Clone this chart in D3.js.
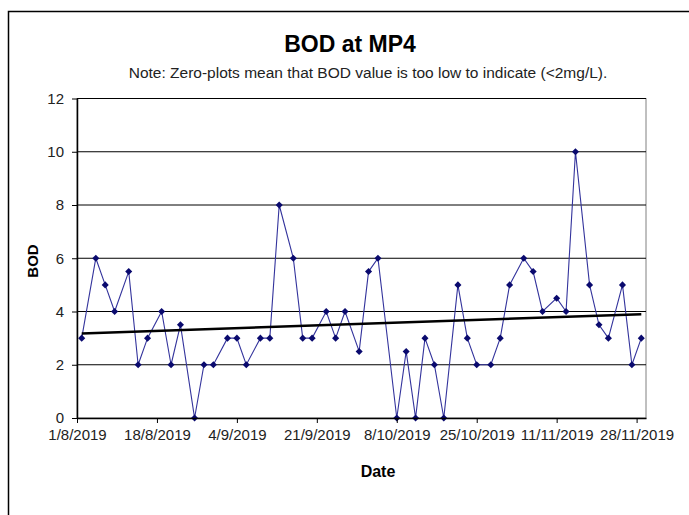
<!DOCTYPE html>
<html>
<head>
<meta charset="utf-8">
<script src="https://cdn.jsdelivr.net/npm/d3@7"></script>
<style>
  body { margin: 0; background: #fff; }
  text { font-family: "Liberation Sans", Arial, sans-serif; }
</style>
</head>
<body>
<div id="wrapper"></div>
<script>
// sample dates (d/m/yyyy) and BOD readings
const sampleDates = [
  "2/8/2019", "5/8/2019", "7/8/2019", "9/8/2019", "12/8/2019", "14/8/2019",
  "16/8/2019", "19/8/2019", "21/8/2019", "23/8/2019", "26/8/2019", "28/8/2019",
  "30/8/2019", "2/9/2019", "4/9/2019", "6/9/2019", "9/9/2019", "11/9/2019",
  "13/9/2019", "16/9/2019", "18/9/2019", "20/9/2019", "23/9/2019", "25/9/2019",
  "27/9/2019", "30/9/2019", "2/10/2019", "4/10/2019", "8/10/2019", "10/10/2019",
  "12/10/2019", "14/10/2019", "16/10/2019", "18/10/2019", "21/10/2019", "23/10/2019",
  "25/10/2019", "28/10/2019", "30/10/2019", "1/11/2019", "4/11/2019", "6/11/2019",
  "8/11/2019", "11/11/2019", "13/11/2019", "15/11/2019", "18/11/2019", "20/11/2019",
  "22/11/2019", "25/11/2019", "27/11/2019", "29/11/2019"
]
const bodValues = [
  3, 6, 5, 4, 5.5, 2,
  3, 4, 2, 3.5, 0, 2,
  2, 3, 3, 2, 3, 3,
  8, 6, 3, 3, 4, 3,
  4, 2.5, 5.5, 6, 0, 2.5,
  0, 3, 2, 0, 5, 3,
  2, 2, 3, 5, 6, 5.5,
  4, 4.5, 4, 10, 5, 3.5,
  3, 5, 2, 3
]
const xDomain = ["1/8/2019", "30/11/2019"]
const xTickLabels = ["1/8/2019", "18/8/2019", "4/9/2019", "21/9/2019",
  "8/10/2019", "25/10/2019", "11/11/2019", "28/11/2019"]
const yTicks = [0, 2, 4, 6, 8, 10, 12]

const chartTitle = "BOD at MP4"
const chartNote = "Note: Zero-plots mean that BOD value is too low to indicate (<2mg/L)."

async function drawChart() {
  const dateParser = d3.timeParse("%d/%m/%Y")
  const dataset = sampleDates.map((d, i) => ({ date: dateParser(d), value: bodValues[i] }))
  const xAccessor = d => d.date
  const yAccessor = d => d.value

  // 2. dimensions
  let dimensions = {
    width: 689,
    height: 515,
    margin: { top: 98.5, right: 43, bottom: 97, left: 77 },
  }
  dimensions.boundedWidth = dimensions.width - dimensions.margin.left - dimensions.margin.right
  dimensions.boundedHeight = dimensions.height - dimensions.margin.top - dimensions.margin.bottom

  // 3. canvas
  const wrapper = d3.select("#wrapper")
    .append("svg")
      .attr("width", dimensions.width)
      .attr("height", dimensions.height)

  wrapper.append("rect")
      .attr("width", dimensions.width)
      .attr("height", dimensions.height)
      .attr("fill", "#fff")

  // outer chart border (runs off the right and bottom of the picture)
  wrapper.append("rect")
      .attr("x", 8.5)
      .attr("y", 11.5)
      .attr("width", 700)
      .attr("height", 520)
      .attr("fill", "none")
      .attr("stroke", "#000")
      .attr("stroke-width", 1.5)

  const bounds = wrapper.append("g")
      .attr("transform", `translate(${dimensions.margin.left}, ${dimensions.margin.top})`)

  // 4. scales
  const xScale = d3.scaleTime()
    .domain(xDomain.map(dateParser))
    .range([0, dimensions.boundedWidth])

  const yScale = d3.scaleLinear()
    .domain([0, 12])
    .range([dimensions.boundedHeight, 0])

  // plot frame (right + top)
  bounds.append("rect")
      .attr("width", dimensions.boundedWidth)
      .attr("height", dimensions.boundedHeight)
      .attr("fill", "none")
      .attr("stroke", "#808080")
      .attr("stroke-width", 1)

  // gridlines
  bounds.append("g")
    .selectAll("line")
    .data(yTicks.filter(d => d > 0))
    .join("line")
      .attr("x1", 0)
      .attr("x2", dimensions.boundedWidth)
      .attr("y1", d => yScale(d))
      .attr("y2", d => yScale(d))
      .attr("stroke", "#000")
      .attr("stroke-width", 1)

  // 5. data
  const lineGenerator = d3.line()
    .x(d => xScale(xAccessor(d)))
    .y(d => yScale(yAccessor(d)))

  bounds.append("path")
      .attr("d", lineGenerator(dataset))
      .attr("fill", "none")
      .attr("stroke", "#33339c")
      .attr("stroke-width", 1.1)

  // linear trendline (least squares, as the spreadsheet does)
  const xs = dataset.map(d => +xAccessor(d))
  const ys = dataset.map(yAccessor)
  const xMean = d3.mean(xs)
  const yMean = d3.mean(ys)
  const slope = d3.sum(xs, (x, i) => (x - xMean) * (ys[i] - yMean)) / d3.sum(xs, x => (x - xMean) ** 2)
  const trend = d3.extent(xs).map(x => ({ date: new Date(x), value: yMean + slope * (x - xMean) }))

  bounds.append("path")
      .attr("d", lineGenerator(trend))
      .attr("fill", "none")
      .attr("stroke", "#000")
      .attr("stroke-width", 2.5)

  const diamond = d3.symbol().type(d3.symbolDiamond2).size(32)
  bounds.append("g")
    .selectAll("path")
    .data(dataset)
    .join("path")
      .attr("d", diamond)
      .attr("transform", d => `translate(${xScale(xAccessor(d))}, ${yScale(yAccessor(d))})`)
      .attr("fill", "#0a0a6e")

  // 6. peripherals
  const yAxisGenerator = d3.axisLeft()
    .scale(yScale)
    .tickValues(yTicks)
    .tickSize(5)
    .tickSizeOuter(0)
    .tickPadding(8)

  const yAxis = bounds.append("g")
    .call(yAxisGenerator)
  yAxis.select(".domain").attr("stroke", "#000").attr("stroke-width", 1.5)
  yAxis.selectAll("text")
    .style("font-size", "15px")
    .attr("fill", "#222")

  const xAxisGenerator = d3.axisBottom()
    .scale(xScale)
    .tickValues(xTickLabels.map(dateParser))
    .tickFormat(d3.timeFormat("%-d/%-m/%Y"))
    .tickSize(5)
    .tickSizeOuter(0)
    .tickPadding(6)

  const xAxis = bounds.append("g")
    .call(xAxisGenerator)
      .attr("transform", `translate(0, ${dimensions.boundedHeight})`)
  xAxis.select(".domain").attr("stroke", "#000").attr("stroke-width", 1.5)
  xAxis.selectAll("text")
    .style("font-size", "15px")
    .attr("fill", "#222")

  wrapper.append("text")
      .attr("x", 350)
      .attr("y", 52)
      .attr("text-anchor", "middle")
      .style("font-size", "23px")
      .style("font-weight", "bold")
      .text(chartTitle)

  wrapper.append("text")
      .attr("x", 368)
      .attr("y", 78)
      .attr("text-anchor", "middle")
      .style("font-size", "15.5px")
      .attr("fill", "#222")
      .text(chartNote)

  wrapper.append("text")
      .attr("transform", "translate(38, 261) rotate(-90)")
      .attr("text-anchor", "middle")
      .style("font-size", "15px")
      .style("font-weight", "bold")
      .text("BOD")

  wrapper.append("text")
      .attr("x", 378)
      .attr("y", 477)
      .attr("text-anchor", "middle")
      .style("font-size", "16px")
      .style("font-weight", "bold")
      .text("Date")
}
drawChart()
</script>
</body>
</html>
